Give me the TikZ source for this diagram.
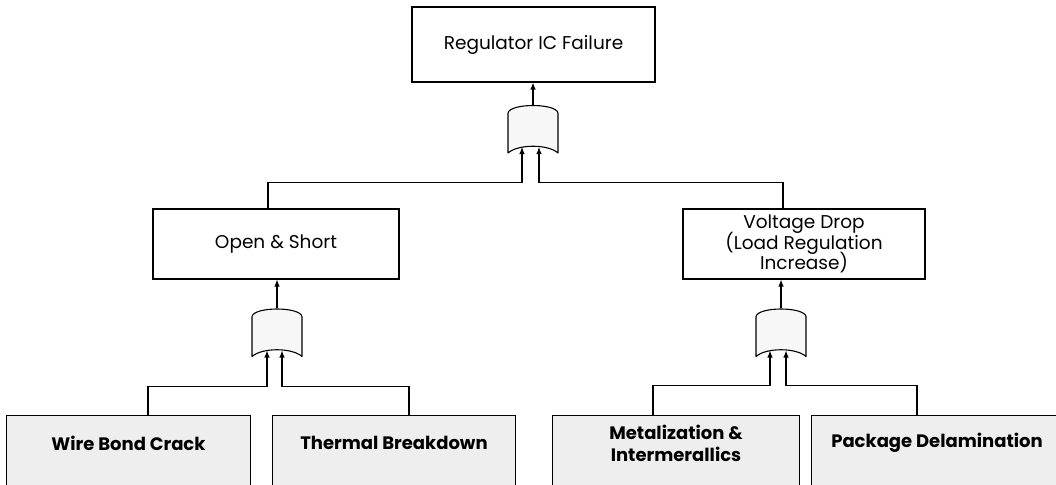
\documentclass[tikz,border=0pt]{standalone}
\usepackage{fontspec}
\setmainfont{Poppins}
\usepackage{tikz}
\usetikzlibrary{calc,arrows.meta,backgrounds}

% keep the baselines even when parentheses are tall
\newcommand{\tightlines}{\lineskiplimit=-20pt\relax}

\tikzset{
  event/.style={draw, line width=1.1pt, fill=white, minimum width=243pt, minimum height=70pt,
    inner sep=2pt, align=center, font=\fontsize{18.5}{20.5}\selectfont\tightlines},
  basic/.style={minimum width=243pt, minimum height=54pt, inner sep=0pt, align=center,
    font=\fontsize{18}{22}\selectfont\bfseries\tightlines},
  basicbox/.style={draw, line width=1.1pt, fill=gray!13},
  gatenode/.style={minimum width=50pt, minimum height=48pt, inner sep=0pt},
  gateline/.style={draw, line width=1.1pt, fill=gray!6, line join=round},
  arr/.style={line width=1.1pt, -{Latex[length=7pt,width=5.5pt]}}
}

\begin{document}
\begin{tikzpicture}[x=1pt,y=-1pt]
  \useasboundingbox (0,0) rectangle (1056,484);

  % events
  \node[event, minimum height=75pt] (top) at (533.5,44.5) {Regulator IC Failure};
  \node[event, minimum width=246pt] (opsh) at (276,244) {Open \& Short};
  \node[event, minimum width=242pt] (volt) at (804,244) {Voltage Drop\\(Load Regulation\\Increase)};

  % basic causes, boxes run off the lower edge
  \node[basic] (wire) at (128.5,443) {Wire Bond Crack};
  \node[basic, minimum width=242pt] (therm) at (394,443) {Thermal Breakdown};
  \node[basic, minimum width=246pt] (metal) at (676,443) {Metalization \&\\Intermerallics};
  \node[basic, minimum width=250pt] (pack) at (937,443) {Package Delamination};
  \begin{scope}[on background layer]
    \clip (0,0) rectangle (1056,484);
    \foreach \b in {wire,therm,metal,pack}
      \draw[basicbox] (\b.north west) rectangle ($(\b.south east)+(0,40)$);
  \end{scope}

  % or gates
  \node[gatenode] (gtop) at (533,129) {};
  \node[gatenode] (gleft) at (277,332.5) {};
  \node[gatenode] (gright) at (781,332.5) {};
  \foreach \g in {gtop,gleft,gright}{
    \draw[gateline] ($(\g)+(-25,24)$) -- ($(\g)+(-25,-16)$)
      .. controls ($(\g)+(-23,-26)$) and ($(\g)+(23,-26)$) .. ($(\g)+(25,-16)$)
      -- ($(\g)+(25,24)$)
      .. controls ($(\g)+(15,15)$) and ($(\g)+(-15,15)$) .. cycle;
  }
  \coordinate (gtop-1) at ($(gtop)+(-11,18)$);
  \coordinate (gtop-2) at ($(gtop)+(6,18)$);
  \coordinate (gleft-1) at ($(gleft)+(-10,18)$);
  \coordinate (gleft-2) at ($(gleft)+(5,18)$);
  \coordinate (gright-1) at ($(gright)+(-11,18)$);
  \coordinate (gright-2) at ($(gright)+(5,18)$);

  % gate outputs
  \draw[arr] (gtop.north) -- (gtop.north |- top.south);
  \draw[arr] (gleft.north) -- (gleft.north |- opsh.south);
  \draw[arr] (gright.north) -- (gright.north |- volt.south);

  % gate inputs
  \draw[arr] (opsh.north) ++(-8,0) -- ++(0,-26) -| (gtop-1);
  \draw[arr] (volt.north) ++(-21,0) -- ++(0,-26) -| (gtop-2);
  \draw[arr] (wire.north) ++(19.5,0) -- ++(0,-29) -| (gleft-1);
  \draw[arr] (therm.north) ++(15,0) -- ++(0,-29) -| (gleft-2);
  \draw[arr] (metal.north) ++(-23,0) -- ++(0,-30) -| (gright-1);
  \draw[arr] (pack.north) ++(-20,0) -- ++(0,-30) -| (gright-2);
\end{tikzpicture}
\end{document}
